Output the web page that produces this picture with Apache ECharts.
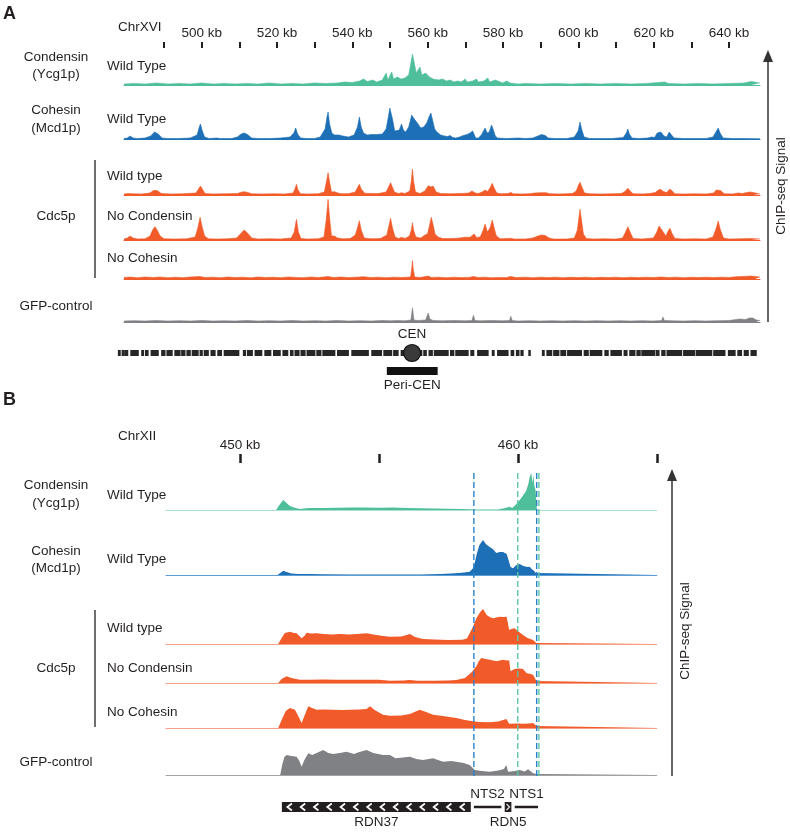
<!DOCTYPE html>
<html><head><meta charset="utf-8">
<script src="https://cdn.jsdelivr.net/npm/echarts@6/dist/echarts.min.js"></script>
<style>html,body{margin:0;padding:0;background:#fff}#c{width:790px;height:832px}</style>
</head><body><div id="c"></div><script>
// ---------------- DATA ----------------
// Panel A: ChrXVI, positions in kb, signal in arbitrary units
const tickLabelsA = [500, 520, 540, 560, 580, 600, 620, 640];
const tickLabelsB = [450, 460];
const condensinA = [[479.4,1],[482,1.5],[485,1],[488,2],[491,1],[494,1.5],[497,1],[500,2],[503,1],[506,1.5],[509,1],[512,1.5],[515,1],[518,2],[521,1],[524,1.5],[527,1],[530,2],[533,1.5],[536,2],[538,3],[540,2.5],[542,4],[543,6],[544,3.5],[545.5,5],[546.5,3],[548,5],[549,12],[549.5,5],[550.5,13],[551,6],[552,8],[553,6],[554,7],[555,10],[555.5,20],[556,31],[556.5,22],[557,12],[557.5,15],[558,18],[558.5,10],[559.5,12],[560,14],[560.5,8],[561.5,6],[562,8],[563,5],[564,6],[565,4],[566,5],[567,3],[568,4],[569,3],[570,6],[570.5,3],[572,4],[573,6],[573.5,3],[575,4],[576,7],[576.5,3],[578,5],[578.5,3],[580,2],[581,4],[582,2],[584,1],[586,1.5],[590,1],[594,1.5],[598,1],[602,1.5],[606,1],[610,1.5],[614,1],[618,1.5],[623,3],[624,1.5],[628,1],[632,1.5],[636,1],[640,1.5],[644,2],[646,3.5],[648.3,2]];
const cohesinA = [[479.4,0.5],[480.3,1],[481,3],[481.8,1],[483,0.5],[485,1],[486.5,3],[487.5,7],[487.9,8],[488.5,5],[489.5,1],[491,0.5],[494,0.5],[497,1],[498.8,4],[499.4,12],[499.7,15],[500.2,8],[500.8,2],[502,0.5],[504,1],[505,0.5],[508,0.5],[509.5,2],[510.5,5],[511.3,6],[512.2,4.5],[513.3,1],[515,0.5],[518,0.5],[521,1],[523.5,2],[524.5,6],[525,11],[525.5,5],[526.3,1],[528,0.5],[530,0.5],[531.5,2],[532.8,10],[533.3,22],[533.6,27],[534,15],[534.6,6],[535.3,4],[536.5,4],[537.5,3],[539,2],[540.5,4],[541.4,12],[541.9,22],[542.4,12],[543,6],[544,4],[545,4.5],[546.5,4.5],[548,5],[549,10],[549.6,22],[550,31],[550.3,32],[550.7,20],[551.3,8],[551.8,6],[552.5,9],[553.1,15],[553.6,9],[554.2,7],[555,12],[555.8,24],[556.3,21],[556.8,20],[557.5,15],[558.2,11],[559,12],[559.8,16],[560.4,22],[560.9,26],[561.4,18],[561.9,10],[562.5,7],[563.5,4],[564.5,3],[565.3,2.5],[566,3.5],[566.7,1.5],[567.5,1],[568.5,2],[569.5,3.5],[570.5,4.5],[571.3,6],[572,8],[572.5,7],[572.8,1],[573.5,1],[574.3,4],[575.3,11],[575.8,6],[576.4,7],[577,14],[577.5,9],[578,3],[578.6,1],[581,0.5],[584,1],[586,0.5],[588,1],[589.3,3],[590.3,4.5],[591.3,3.5],[592,1],[594,0.5],[597,0.5],[599,2],[600,8],[600.5,17],[601,9],[601.6,2],[603,0.5],[606,0.5],[609,0.5],[612,1.5],[612.8,6],[613.2,10],[613.6,5],[614.3,1],[616,0.5],[618.5,1],[619.5,2],[620.3,1.5],[621,6],[621.5,8],[622,7],[622.8,3],[623.5,2],[624.2,7],[624.8,4],[625.5,1],[628,0.5],[631,0.5],[634,0.5],[635.8,2],[636.6,7],[637.2,11],[637.7,6],[638.5,1],[641,0.5],[644,0.5],[648.3,0.5]];
const cdc5WildTypeA = [[479.4,1],[480.5,1.5],[481,2.3],[481.7,1.2],[484,1],[486.3,2],[487.2,4.5],[487.6,5.7],[488.2,4.5],[489.3,1.5],[492,1],[495,1.2],[498.5,2],[499.2,6],[499.7,9],[500.2,6],[500.9,1.5],[503,1],[506,1.2],[509.5,1.5],[510.5,2.8],[511.3,3.3],[512.3,2.5],[513.3,1.2],[516,1],[519,1.2],[522,1],[524.3,2],[524.8,6],[525.2,10.7],[525.6,5],[526.3,1.3],[528,1],[531,1.2],[532.6,3],[533.2,14],[533.6,22.3],[534,13],[534.5,3],[535.3,3.3],[536,2.2],[537,1.3],[539,1.3],[540.8,3],[541.5,8],[541.9,10.7],[542.4,6],[543.3,1.8],[545,1.5],[547,1.5],[549,3],[549.8,9],[550.2,12.3],[550.6,11],[551.2,3],[552.3,1.5],[553.1,2.3],[554,1.5],[555.3,4],[555.7,14],[556,26],[556.3,14],[556.8,3],[558,1.5],[559.3,4],[560.2,9.3],[560.9,8],[561.5,9],[562.3,3],[563.5,1.5],[566,1.2],[569,1.5],[571,2],[571.8,4],[572.2,5.7],[572.7,2],[573.5,1.5],[574.5,3],[575.3,5],[575.9,3.5],[576.6,7],[577.2,11.7],[577.7,7],[578.4,2],[579.5,1.2],[581.5,1.5],[582.1,2.7],[582.7,1.2],[585,1],[587,1.2],[588.5,2],[590,2.3],[591.5,2.3],[592.5,1.2],[595,1],[598.5,1.5],[599.5,4],[600.1,10],[600.5,12.7],[601,8],[601.7,2],[603,1.2],[606,1],[609,1.2],[611.5,1.5],[612.6,4],[613.2,6.7],[613.8,4],[614.6,1.3],[617,1],[619,1.5],[620.5,2.5],[621.3,5],[621.9,5.7],[622.6,3.5],[623.5,2.5],[624.4,6],[625,4],[625.7,1.2],[628,1],[631,1.2],[634,1],[636,2],[636.7,5],[637.2,6.7],[637.8,4.5],[638.8,1.3],[641,1],[642.5,2],[643,2.3],[643.6,1.5],[644.8,2.5],[645.6,3],[646.5,2.5],[648.3,1]];
const cdc5NoCondensinA = [[479.4,1],[480.3,2],[481,4],[481.8,2],[483,1],[485,1.2],[486.3,4],[487,10],[487.6,13.3],[488.2,10],[489,4],[490,1.2],[493,1],[496,1.2],[498.3,3],[499,12],[499.6,22.7],[500.1,14],[500.8,4],[501.8,1.2],[504,1],[507,1.2],[509.3,2],[510.3,6],[511.3,10],[512.2,7],[513.3,2],[515,1],[518,1.2],[521,1],[523.8,2],[524.6,8],[525.2,20.7],[525.7,8],[526.4,1.5],[528,1],[531,1.2],[532.5,3],[533.1,20],[533.6,40.7],[534,22],[534.5,4],[535.3,4],[536.1,2],[537.5,1.2],[539.5,1.5],[540.8,5],[541.4,12],[541.9,19.3],[542.4,10],[543.2,2],[545,1.2],[547.5,1.5],[549.2,5],[549.8,15],[550.2,21.7],[550.7,12],[551.4,3],[552.3,1.5],[553.1,2.7],[554,1.5],[555.2,4],[555.7,10],[556,17.3],[556.3,10],[556.9,3],[558.2,2],[559.3,5],[560,6],[560.5,14],[561,22.7],[561.5,15],[562,6],[562.8,3],[564,1.5],[566,1.5],[568,1.8],[570,2.7],[571.3,2.7],[572.4,6],[573,2.5],[574,3],[574.8,10],[575.3,16],[575.9,8],[576.6,12],[577.2,20],[577.7,12],[578.3,4],[579.3,1.2],[581.2,1.5],[582.1,1.7],[583,1],[586,1],[588,2],[589.3,4],[590.3,5],[591.3,4.5],[592.3,2],[593.5,1],[597,1],[599,2],[599.8,10],[600.2,22],[600.5,30.7],[600.9,20],[601.4,6],[602.2,1.5],[604,1],[607,1.2],[610,1],[611.8,2],[612.6,8],[613.2,13.3],[613.8,8],[614.6,1.5],[617,1],[619,1.7],[620,2],[620.9,8],[621.5,14],[621.9,15],[622.6,8],[623.3,4],[623.9,9],[624.4,11.7],[625,6],[625.7,1.5],[628,1],[631,1.2],[634,1],[635.8,3],[636.6,11],[637.2,19],[637.8,10],[638.6,2],[640,1],[643,1.2],[646,1.5],[648.3,1]];
const cdc5NoCohesinA = [[479.4,1.5],[481,2],[483,1.2],[485,2],[487,1.5],[489,2],[491,1.2],[493,1.8],[495,1.3],[497,2],[499.5,2.5],[501,1.5],[503,1.8],[505,1.2],[507,2],[509,1.5],[511,1.8],[513,1.2],[515,2],[517,1.5],[519,1.8],[521,1.3],[523,2],[525,1.6],[527,1.3],[529,2],[531,1.5],[533.6,2.5],[535,1.5],[537,2],[539,1.4],[541,1.8],[543,2.3],[545,1.5],[547,1.8],[549,1.3],[551,1.8],[553,1.5],[555.5,2],[555.8,10],[556,18.3],[556.2,10],[556.6,2],[558,1.5],[560.2,3],[561,1.5],[563,1.8],[565,1.3],[567,1.8],[569,1.4],[571,1.6],[572.2,2.5],[573.5,1.5],[575,1.8],[577,1.3],[579,1.6],[581,1.4],[582.1,2.6],[583.5,1.4],[586,1.8],[588,1.3],[590,1.8],[592,1.4],[594,1.8],[596,1.3],[598,1.7],[600,1.4],[602,1.8],[604,1.3],[606,1.7],[608,1.4],[610,1.8],[612,1.3],[614,1.7],[616,1.4],[618,1.8],[620,1.5],[622,2],[624,1.5],[626,1.8],[628,1.3],[630,1.7],[632,1.5],[634,1.8],[636,1.4],[638,1.8],[640,1.5],[642,2.3],[643.5,2.5],[645,2.8],[646,3],[647,2.5],[648.3,2]];
const gfpControlA = [[479.4,1],[482,1.3],[485,1],[488,1.5],[491,1],[494,1.3],[497,1],[500,1.5],[503,1],[506,1.2],[509,1],[512,1.5],[515,1],[518,1.3],[521,1],[524,1.5],[527,1],[530,1.3],[533,1],[536,1.5],[539,1],[542,1.3],[545,1],[548,1.5],[550,1.2],[552,1.5],[554,1.2],[555.6,2],[556,14.3],[556.4,2],[557.5,1.5],[559.5,2],[559.9,6],[560.2,9],[560.6,3],[561.5,1.5],[564,1.2],[567,1.5],[570,1.2],[571.8,1.5],[572.2,6.7],[572.6,1.5],[574,1.2],[577,1.5],[580,1.2],[581.8,1.5],[582.1,5.7],[582.5,1.5],[584,1],[587,1.3],[590,1],[593,1.3],[596,1],[599,1.3],[602,1],[605,1.3],[608,1],[611,1.3],[614,1],[617,1.3],[620,1],[622.2,1.5],[622.5,5],[622.9,1.5],[625,1.2],[628,1],[631,1.3],[634,1],[637,1.3],[640,1.5],[642,2.5],[643,3],[644.5,2.5],[645.5,4],[645.9,6],[646.4,4],[647.3,2],[648.3,1.5]];
// Gene blocks on ChrXVI (kb start, kb end)
const genesA = [[477.9,478.4],[478.9,479.5],[479.8,480.4],[481.2,483.2],[484.1,484.6],[485.1,485.8],[486.6,488.5],[489.4,490.3],[490.8,492.2],[492.9,494.3],[494.7,495.6],[496.1,497.0],[497.5,499.1],[499.6,500.2],[500.7,501.8],[502.5,503.6],[504.3,505.3],[506.0,509.9],[511.1,511.7],[512.2,513.5],[514.2,516.0],[516.8,518.4],[519.1,520.9],[521.6,522.9],[523.6,524.3],[524.8,525.9],[526.4,527.5],[528.0,530.1],[530.6,531.7],[532.2,535.4],[536.1,539.0],[539.9,544.3],[545.2,547.8],[548.4,550.5],[551.0,552.2],[553.0,554.0],[554.9,557.1],[557.7,558.5],[559.0,559.7],[560.4,561.3],[561.8,565.5],[566.1,567.0],[567.5,570.8],[571.5,572.3],[573.3,576.1],[577.2,577.7],[578.6,581.4],[582.2,582.9],[583.6,584.3],[584.8,585.4],[586.9,587.3],[590.5,591.0],[591.7,593.0],[593.5,594.9],[595.4,596.7],[597.2,600.9],[601.6,602.7],[603.2,606.3],[607.1,608.0],[608.7,611.5],[612.2,613.0],[613.7,615.1],[615.6,616.5],[616.9,620.4],[620.8,621.5],[622.2,623.1],[623.6,627.5],[628.0,631.0],[631.4,635.5],[636.0,639.0],[639.9,641.7],[642.4,643.4],[644.1,645.2],[645.9,647.3]];
const centromereA = [555.9];
const periCenA = [[549.2, 562.7]];

// Panel B: ChrXII rDNA region
const condensinB = [[447.34,0],[451.3,0],[451.42,5],[451.56,10],[451.68,7],[451.8,4],[452.0,2],[452.16,1],[452.3,1.5],[452.5,2],[453,2],[453.5,2.2],[454,2.5],[454.5,2.5],[455,2.3],[455.5,2.4],[456,2],[456.5,1.8],[457,1.5],[457.5,1.2],[458,1],[458.5,0.6],[459,0.4],[459.3,0.6],[459.55,2],[459.7,3.3],[459.8,2],[459.95,6],[460.0,8],[460.1,11],[460.2,15],[460.3,19],[460.38,26],[460.43,33],[460.49,37],[460.53,27],[460.56,35],[460.6,24],[460.64,20],[460.67,8],[460.69,0],[465,0]];
const cohesinB = [[447.34,0],[451.35,0],[451.45,2],[451.56,4.3],[451.68,3],[451.85,1.5],[452.1,1],[452.5,1],[453,0.7],[454,0.6],[455,0.5],[456,0.5],[456.5,0.5],[457.2,1],[457.6,1.5],[458,2.2],[458.27,3.3],[458.39,6.7],[458.45,12],[458.53,21.7],[458.62,30],[458.75,35],[458.85,31],[458.99,28],[459.1,26],[459.23,22],[459.35,23],[459.47,23],[459.6,21],[459.65,20],[459.7,12],[459.74,8],[459.83,6.7],[459.95,10],[460.07,11],[460.13,11.7],[460.2,9],[460.25,7.3],[460.35,8],[460.43,8.3],[460.5,6],[460.58,4.3],[460.65,2],[460.68,0],[465,0]];
const cdc5WildTypeB = [[447.34,0],[451.38,0],[451.5,6],[451.62,11],[451.8,12.3],[451.95,11],[452.04,10.7],[452.14,8],[452.22,5.7],[452.32,8],[452.4,11.3],[452.55,10.5],[452.76,10.7],[453,10],[453.3,9.5],[453.6,10],[453.96,9.5],[454.2,10],[454.56,10.7],[454.8,9.5],[455.15,8],[455.4,7.3],[455.8,7.5],[456.0,9],[456.12,10],[456.3,7],[456.59,5],[457,4.5],[457.5,4],[458,4.2],[458.17,5.5],[458.27,10.7],[458.4,18],[458.51,25.7],[458.65,32],[458.75,35],[458.88,29],[458.99,27],[459.11,25.7],[459.23,26.5],[459.35,27.3],[459.47,27],[459.6,27.3],[459.65,27.3],[459.69,14],[459.77,15],[459.89,15.7],[460.0,13],[460.19,9],[460.35,6],[460.55,4],[460.67,1],[460.69,0],[465,0]];
const cdc5NoCondensinB = [[447.34,0],[451.38,0],[451.5,4],[451.68,6.7],[451.85,5],[452.16,3.3],[452.5,3.3],[453,3.5],[453.5,3.3],[454,3.3],[454.5,3.3],[455,3.2],[455.4,2.3],[455.9,2.5],[456.1,3],[456.4,2.3],[457,2.3],[457.5,2.5],[457.79,3],[458.1,5],[458.17,6.7],[458.35,11],[458.51,16.7],[458.6,22],[458.69,25],[458.85,24],[458.99,23.3],[459.23,21.7],[459.35,22.5],[459.47,23.3],[459.6,22.5],[459.69,22.7],[459.74,11.7],[459.89,14],[460.05,14.5],[460.19,14],[460.31,10],[460.45,9],[460.55,8.3],[460.67,2],[460.69,0],[465,0]];
const cdc5NoCohesinB = [[447.34,0],[451.38,0],[451.5,8],[451.65,17],[451.8,20],[451.98,18.3],[452.1,12],[452.22,5],[452.32,12],[452.46,21.7],[452.6,20],[452.76,18.3],[453,18.5],[453.36,18.3],[453.7,18],[453.96,18.3],[454.3,18.5],[454.56,19],[454.68,21.7],[454.85,18],[455.15,13.3],[455.4,12.3],[455.8,12.5],[456.12,14],[456.47,18.3],[456.7,16],[456.95,13.3],[457.3,12],[457.79,10],[458.1,8],[458.39,6.7],[458.6,6],[458.99,5.7],[459.3,6.5],[459.59,9],[459.65,8],[459.69,4.3],[460,4.5],[460.19,4.3],[460.4,4.5],[460.55,5],[460.67,2],[460.69,0],[465,0]];
const gfpControlB = [[447.34,0],[451.45,0],[451.52,10],[451.6,18],[451.68,20],[451.85,19],[452.04,18.3],[452.14,14],[452.22,8.3],[452.32,15],[452.46,21.7],[452.6,20],[452.76,22],[453,25],[453.18,22],[453.36,21],[453.6,22],[453.84,23.3],[454.1,21],[454.3,23],[454.56,25],[454.8,22],[455.15,20],[455.4,20],[455.6,16.7],[456.12,18.3],[456.35,16],[456.59,15],[456.95,16.7],[457.31,13.3],[457.6,14],[457.79,13.3],[458.05,12],[458.27,10],[458.45,5],[458.7,4],[458.99,3.3],[459.3,4.5],[459.5,6],[459.59,10],[459.65,3.3],[459.9,4],[460.07,5],[460.25,3.5],[460.37,5.7],[460.55,1.7],[460.67,1],[460.69,0],[465,0]];
const dashedBlueB = [458.42, 460.68];
const dashedTealB = [460.0, 460.76];
const geneNamesB = ['RDN37', 'NTS2', 'RDN5', 'NTS1'];
const geneStartB = [451.51, 458.42, 459.53, 459.89];
const geneEndB = [458.31, 459.41, 459.77, 460.73];
const geneStrandB = [-1, 0, 1, 0];

// ---------------- STYLE / LAYOUT ----------------
const FONT = '"Liberation Sans", Arial, Helvetica, sans-serif';
const FS = 13.5;
const INK = '#231f20';
const TEAL = '#4fbf9b', TEAL_L = '#a9e1cd';
const BLUE = '#1d6fb6', BLUE_L = '#5d9dd6';
const ORANGE = '#f15a29', ORANGE_L = '#f7a083';
const GRAY = '#808184', GRAY_L = '#a3a3a5';
const A_RANGE = [479.4, 648.3];
const B_RANGE = [447.34, 465];
const TRACK_H = 46;

const grids = [], xAxes = [], yAxes = [], series = [];
function addGrid(g, xa, ya) {
  grids.push(g);
  const i = grids.length - 1;
  xAxes.push(Object.assign({gridIndex: i, type: 'value', splitLine: {show: false}}, xa));
  yAxes.push(Object.assign({gridIndex: i, type: 'value', show: false, splitLine: {show: false}}, ya));
  return i;
}
function hiddenX(min, max, lineColor) {
  return {min, max, position: 'bottom',
    axisLine: {show: !!lineColor, onZero: false, lineStyle: {color: lineColor || '#000', width: 1}},
    axisTick: {show: false}, axisLabel: {show: false}};
}

// Tick row A
const tA = addGrid({left: 164, top: 47, width: 565, height: 1},
  {min: 490, max: 640, interval: 10, position: 'top',
   axisLine: {show: false},
   axisTick: {show: true, length: 6, lineStyle: {width: 2, color: INK}},
   axisLabel: {margin: 7, fontSize: FS, fontFamily: FONT, color: INK,
     formatter: v => tickLabelsA.includes(v) ? v + ' kb' : ''}},
  {min: 0, max: 1});
series.push({type: 'scatter', xAxisIndex: tA, yAxisIndex: tA, data: [], silent: true});

// Tracks A
const tracksA = [
  [condensinA, TEAL, 85], [cohesinA, BLUE, 139], [cdc5WildTypeA, ORANGE, 195],
  [cdc5NoCondensinA, ORANGE, 240], [cdc5NoCohesinA, ORANGE, 279], [gfpControlA, GRAY, 322]
];
tracksA.forEach(([d, col, base]) => {
  const i = addGrid({left: 124, right: 30, top: base - TRACK_H, height: TRACK_H},
    hiddenX(A_RANGE[0], A_RANGE[1], col), {min: 0, max: TRACK_H});
  series.push({type: 'line', xAxisIndex: i, yAxisIndex: i, data: d, symbol: 'none', silent: true,
    lineStyle: {width: 0.6, color: col}, areaStyle: {color: col, opacity: 1}});
});

// Gene bar A
const gA = addGrid({left: 124, right: 30, top: 350, height: 6}, hiddenX(A_RANGE[0], A_RANGE[1]), {min: 0, max: 1});
series.push({type: 'custom', xAxisIndex: gA, yAxisIndex: gA, data: genesA, clip: false, silent: true,
  renderItem: (params, api) => {
    const s = api.coord([api.value(0), 0]), e = api.coord([api.value(1), 0]);
    const cs = params.coordSys;
    return {type: 'rect', shape: {x: s[0] - 0.5, y: cs.y, width: Math.max(1.5, e[0] - s[0] + 1), height: cs.height},
      style: {fill: '#262626'}};
  }});
series.push({type: 'scatter', xAxisIndex: gA, yAxisIndex: gA, data: centromereA.map(c => [c, 0.5]),
  symbolSize: 17, z: 5, silent: true,
  itemStyle: {color: '#3a3a3a', borderColor: '#111', borderWidth: 1.2, opacity: 1},
  label: {show: true, position: 'top', distance: 3, formatter: 'CEN', fontSize: FS, fontFamily: FONT, color: INK}});
const pA = addGrid({left: 124, right: 30, top: 367, height: 8}, hiddenX(A_RANGE[0], A_RANGE[1]), {min: 0, max: 1});
series.push({type: 'custom', xAxisIndex: pA, yAxisIndex: pA, data: periCenA, clip: false, silent: true,
  renderItem: (params, api) => {
    const s = api.coord([api.value(0), 0]), e = api.coord([api.value(1), 0]);
    const cs = params.coordSys;
    return {type: 'group', children: [
      {type: 'rect', shape: {x: s[0], y: cs.y, width: e[0] - s[0], height: cs.height}, style: {fill: '#111'}},
      {type: 'text', x: (s[0] + e[0]) / 2, y: cs.y + cs.height + 10,
       style: {text: 'Peri-CEN', fill: INK, font: FS + 'px ' + FONT, textAlign: 'center', textVerticalAlign: 'middle'}}
    ]};
  }});

// Tick row B
const tB = addGrid({left: 240, top: 462, width: 417, height: 1},
  {min: 450, max: 465, interval: 5, position: 'top',
   axisLine: {show: false},
   axisTick: {show: true, length: 9, lineStyle: {width: 2.5, color: INK}},
   axisLabel: {margin: 10, fontSize: FS, fontFamily: FONT, color: INK,
     formatter: v => tickLabelsB.includes(v) ? v + ' kb' : ''}},
  {min: 0, max: 1});
series.push({type: 'scatter', xAxisIndex: tB, yAxisIndex: tB, data: [], silent: true});

// Tracks B
const tracksB = [
  [condensinB, TEAL, TEAL_L, 510], [cohesinB, BLUE, BLUE_L, 575], [cdc5WildTypeB, ORANGE, ORANGE_L, 644],
  [cdc5NoCondensinB, ORANGE, ORANGE_L, 683], [cdc5NoCohesinB, ORANGE, ORANGE_L, 728], [gfpControlB, GRAY, GRAY_L, 775]
];
tracksB.forEach(([d, col, light, base]) => {
  const i = addGrid({left: 166, width: 490.7, top: base - TRACK_H, height: TRACK_H},
    hiddenX(B_RANGE[0], B_RANGE[1], light), {min: 0, max: TRACK_H});
  series.push({type: 'line', xAxisIndex: i, yAxisIndex: i, data: d, symbol: 'none', silent: true,
    lineStyle: {width: 0, color: col}, areaStyle: {color: col, opacity: 1}});
});

// Dashed guide lines B
const dB = addGrid({left: 166, width: 490.7, top: 472, height: 304}, hiddenX(B_RANGE[0], B_RANGE[1]), {min: 0, max: 1});
dashedBlueB.forEach(k => series.push({type: 'line', xAxisIndex: dB, yAxisIndex: dB, data: [[k, 0], [k, 1]],
  symbol: 'none', silent: true, z: 6, lineStyle: {color: '#2a80cc', width: 1.4, type: [6, 3]}}));
dashedTealB.forEach(k => series.push({type: 'line', xAxisIndex: dB, yAxisIndex: dB, data: [[k, 0], [k, 1]],
  symbol: 'none', silent: true, z: 6, lineStyle: {color: '#5cc6a4', width: 1.4, type: [6, 3]}}));

// Gene annotation B
const gB = addGrid({left: 166, width: 490.7, top: 802, height: 10}, hiddenX(B_RANGE[0], B_RANGE[1]), {min: 0, max: 1});
series.push({type: 'custom', xAxisIndex: gB, yAxisIndex: gB, clip: false, silent: true,
  data: geneNamesB.map((n, i) => [geneStartB[i], geneEndB[i], geneStrandB[i], n]),
  renderItem: (params, api) => {
    const s = api.coord([api.value(0), 0])[0], e = api.coord([api.value(1), 0])[0];
    const strand = api.value(2), name = geneNamesB[params.dataIndex];
    const cs = params.coordSys, y = cs.y, h = cs.height;
    const ch = [];
    const txt = (ty) => ({type: 'text', x: (s + e) / 2, y: ty,
      style: {text: name, fill: INK, font: FS + 'px ' + FONT, textAlign: 'center', textVerticalAlign: 'middle'}});
    if (strand === 0) {
      ch.push({type: 'line', shape: {x1: s, y1: y + h / 2, x2: e, y2: y + h / 2}, style: {stroke: INK, lineWidth: 2.5}});
      ch.push(txt(y - 8));
    } else {
      ch.push({type: 'rect', shape: {x: s, y: y, width: e - s, height: h}, style: {fill: INK}});
      if (strand < 0) {
        for (let cx = s + 7.5; cx < e - 4; cx += 13.3) {
          ch.push({type: 'polyline', shape: {points: [[cx + 2.5, y + 1.5], [cx - 2, y + 5], [cx + 2.5, y + 8.5]]},
            style: {stroke: '#fff', lineWidth: 1.7, fill: null}});
        }
      } else {
        const cx = (s + e) / 2;
        ch.push({type: 'polyline', shape: {points: [[cx - 1.5, y + 2], [cx + 1.5, y + 5], [cx - 1.5, y + 8]]},
          style: {stroke: '#ddd', lineWidth: 1.3, fill: null}});
      }
      ch.push(txt(y + h + 10));
    }
    return {type: 'group', children: ch};
  }});

// ---------------- TEXT / DECORATION ----------------
function T(text, x, y, align) {
  return {type: 'text', x, y, silent: true,
    style: {text, fill: INK, font: FS + 'px ' + FONT, textAlign: align || 'left', textVerticalAlign: 'middle'}};
}
function BoldT(text, x, y) {
  return {type: 'text', x, y, silent: true,
    style: {text, fill: INK, font: 'bold 18px ' + FONT, textAlign: 'left', textVerticalAlign: 'middle'}};
}
const graphic = [
  BoldT('A', 3, 14),
  T('ChrXVI', 118, 27),
  T('Condensin', 56, 57.5, 'center'), T('(Ycg1p)', 56, 74, 'center'), T('Wild Type', 107, 66.5),
  T('Cohesin', 56, 110, 'center'), T('(Mcd1p)', 56, 128, 'center'), T('Wild Type', 107, 119),
  T('Cdc5p', 56, 216, 'center'),
  T('Wild type', 107, 176), T('No Condensin', 107, 216), T('No Cohesin', 107, 258),
  T('GFP-control', 56, 306.5, 'center'),
  {type: 'line', silent: true, shape: {x1: 95, y1: 160, x2: 95, y2: 278}, style: {stroke: INK, lineWidth: 1.3}},
  {type: 'line', silent: true, shape: {x1: 768, y1: 322, x2: 768, y2: 58}, style: {stroke: '#333', lineWidth: 1.5}},
  {type: 'polygon', silent: true, shape: {points: [[768, 50], [763, 62], [773, 62]]}, style: {fill: '#333'}},
  {type: 'text', x: 781, y: 186, rotation: Math.PI / 2, silent: true,
   style: {text: 'ChIP-seq Signal', fill: INK, font: FS + 'px ' + FONT, textAlign: 'center', textVerticalAlign: 'middle'}},

  BoldT('B', 3, 400),
  T('ChrXII', 118, 436),
  T('Condensin', 56, 485, 'center'), T('(Ycg1p)', 56, 503, 'center'), T('Wild Type', 107, 495),
  T('Cohesin', 56, 551, 'center'), T('(Mcd1p)', 56, 568, 'center'), T('Wild Type', 107, 559.5),
  T('Cdc5p', 56, 668, 'center'),
  T('Wild type', 107, 628), T('No Condensin', 107, 668), T('No Cohesin', 107, 712),
  T('GFP-control', 56, 762, 'center'),
  {type: 'line', silent: true, shape: {x1: 95, y1: 610, x2: 95, y2: 727}, style: {stroke: INK, lineWidth: 1.3}},
  {type: 'line', silent: true, shape: {x1: 672, y1: 776, x2: 672, y2: 477}, style: {stroke: '#333', lineWidth: 1.5}},
  {type: 'polygon', silent: true, shape: {points: [[672, 469], [667, 481], [677, 481]]}, style: {fill: '#333'}},
  {type: 'text', x: 685, y: 631, rotation: Math.PI / 2, silent: true,
   style: {text: 'ChIP-seq Signal', fill: INK, font: FS + 'px ' + FONT, textAlign: 'center', textVerticalAlign: 'middle'}}
];

const chart = echarts.init(document.getElementById('c'), null, {renderer: 'canvas'});
chart.setOption({
  animation: false,
  backgroundColor: '#fff',
  textStyle: {fontFamily: FONT},
  grid: grids, xAxis: xAxes, yAxis: yAxes, series, graphic
});
</script></body></html>
